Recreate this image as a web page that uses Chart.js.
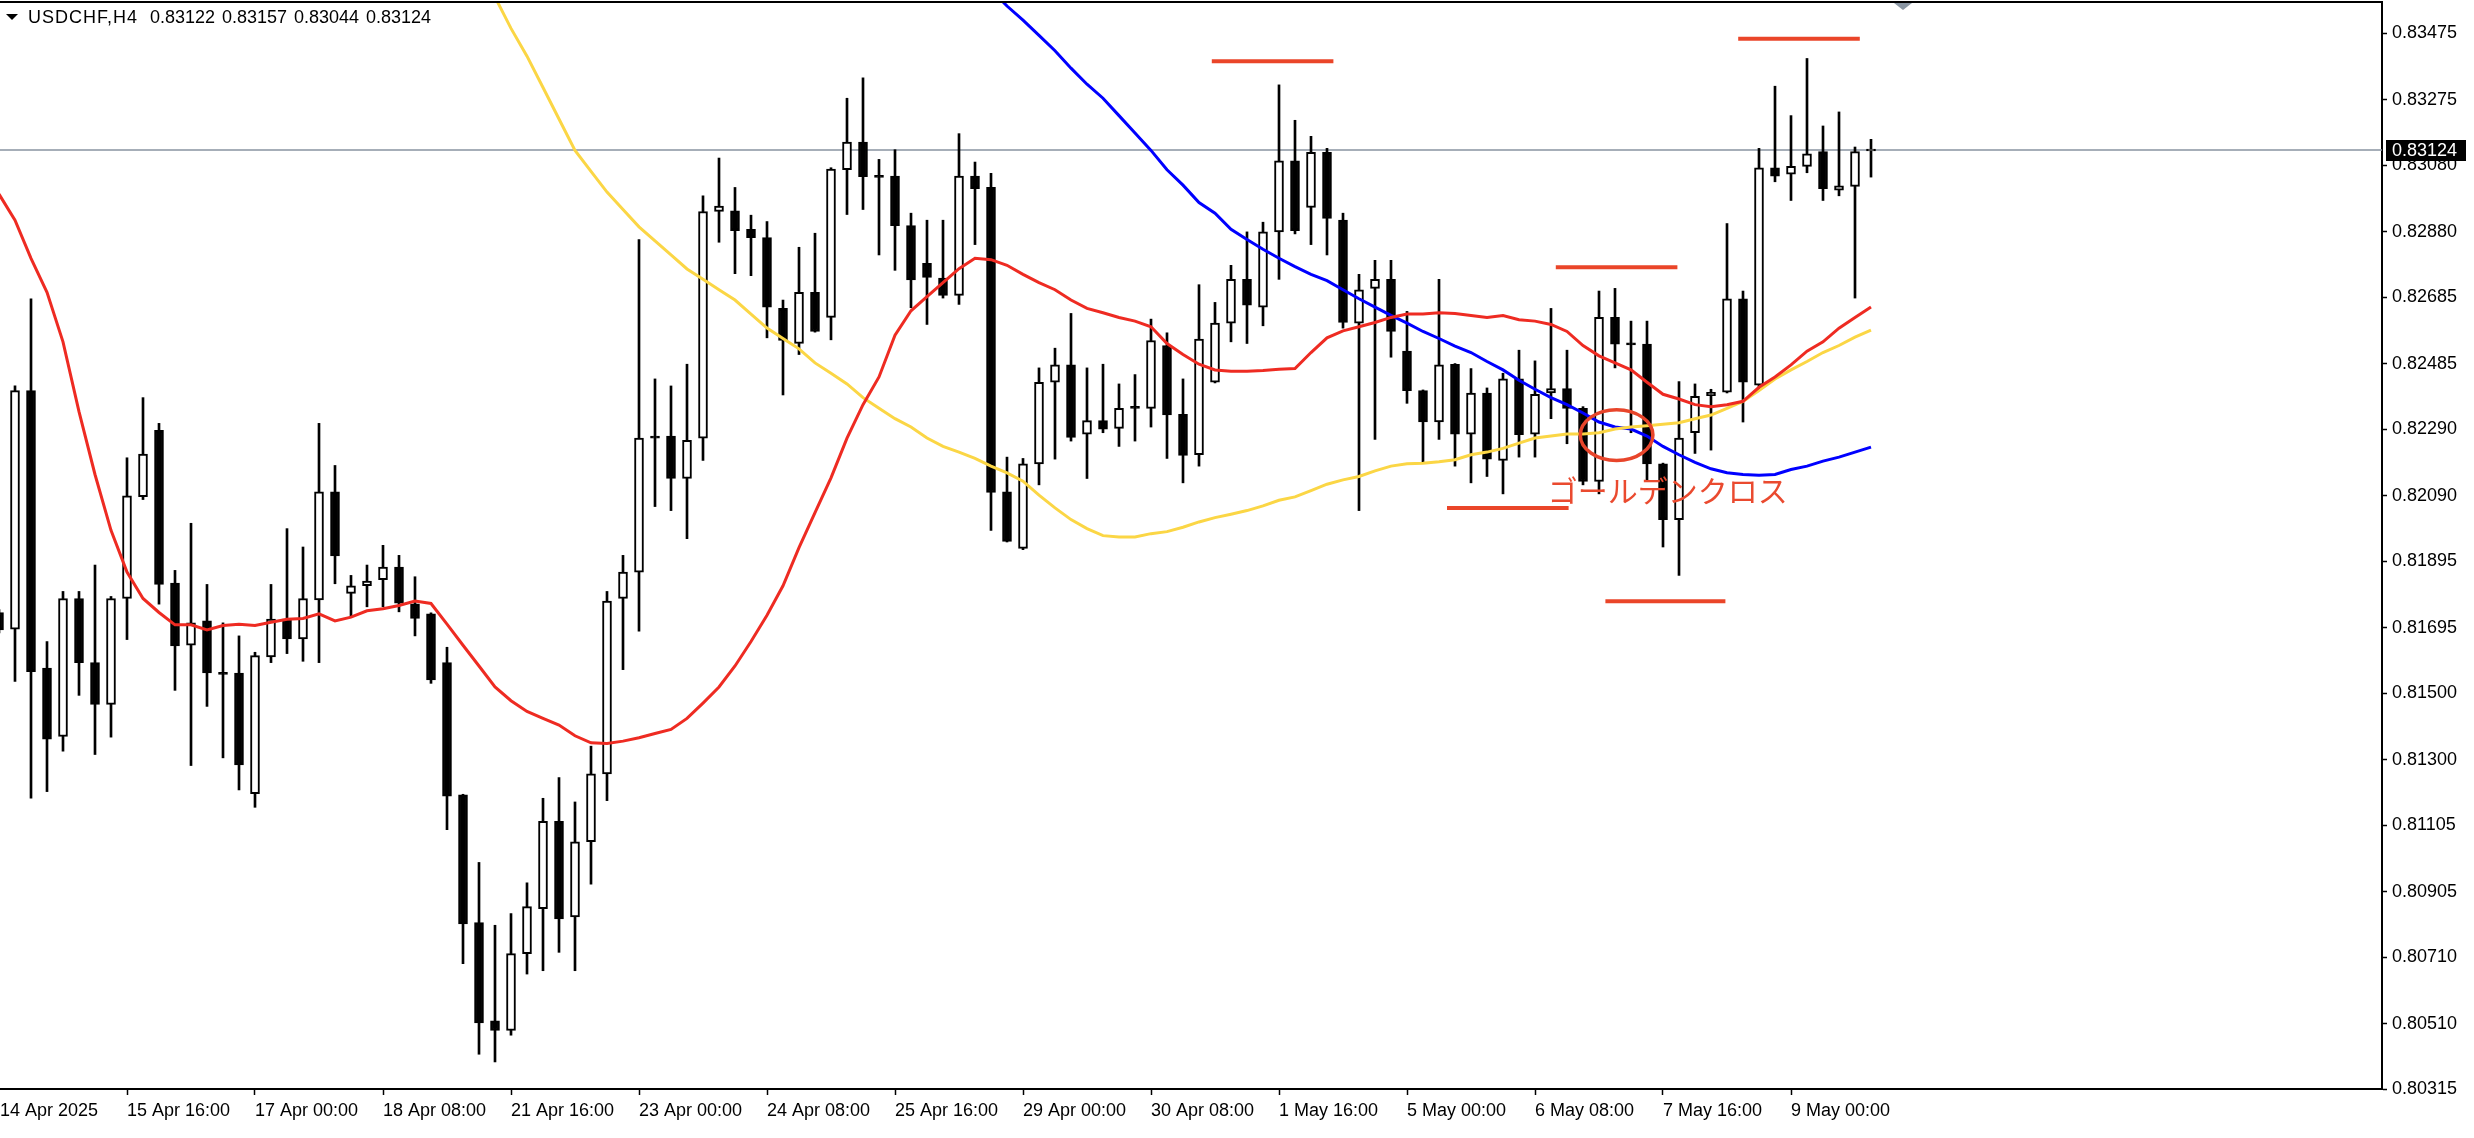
<!DOCTYPE html>
<html><head><meta charset="utf-8">
<script src="https://cdn.jsdelivr.net/npm/chart.js@4.4.1/dist/chart.umd.min.js"></script>
<style>html,body{margin:0;padding:0;background:#fff;overflow:hidden}#wrap{width:2474px;height:1138px;position:relative}canvas{display:block}</style>
</head><body><div id="wrap"><canvas id="c" width="2474" height="1138"></canvas></div>
<script>
// ---------- DATA ----------
const symbolTitle = 'USDCHF,H4';
const lastOHLC = ['0.83122', '0.83157', '0.83044', '0.83124'];

const opens = [0.81741,0.81691,0.82405,0.81575,0.81370,0.81783,0.81591,0.81466,0.81783,0.82088,
0.82286,0.81829,0.81643,0.81716,0.81560,0.81560,0.81199,0.81608,0.81721,0.81662,
0.81779,0.82102,0.81798,0.81821,0.81839,0.81877,0.81767,0.81737,0.81591,0.81195,
0.80813,0.80519,0.80490,0.80720,0.80855,0.81116,0.80830,0.81055,0.81258,0.81783,
0.81862,0.82265,0.82269,0.82142,0.82263,0.82941,0.82943,0.82888,0.82863,0.82651,
0.82546,0.82699,0.82624,0.83066,0.83149,0.83045,0.83047,0.82899,0.82786,0.82742,
0.82690,0.83047,0.83013,0.82102,0.81933,0.82186,0.82430,0.82482,0.82275,0.82315,
0.82292,0.82354,0.82352,0.82540,0.82334,0.82213,0.82430,0.82607,0.82738,0.82655,
0.82880,0.83093,0.82953,0.83118,0.82915,0.82607,0.82711,0.82738,0.82523,0.82405,
0.82311,0.82484,0.82275,0.82398,0.82196,0.82440,0.82275,0.82398,0.82411,0.82352,
0.82133,0.82624,0.82544,0.82544,0.82186,0.82019,0.82279,0.82390,0.82400,0.82680,
0.82421,0.83072,0.83053,0.83076,0.83120,0.83005,0.83016,0.83122];
const highs = [0.81750,0.82419,0.82680,0.81654,0.81804,0.81804,0.81883,0.81789,0.82204,0.82384,
0.82307,0.81867,0.82008,0.81825,0.81710,0.81671,0.81622,0.81825,0.81992,0.81937,
0.82307,0.82181,0.81852,0.81883,0.81942,0.81912,0.81848,0.81740,0.81637,0.81197,
0.80993,0.80805,0.80840,0.80932,0.81185,0.81247,0.81174,0.81341,0.81804,0.81912,
0.82857,0.82440,0.82419,0.82484,0.82988,0.83101,0.83013,0.82930,0.82911,0.82676,
0.82834,0.82876,0.83072,0.83280,0.83341,0.83097,0.83126,0.82936,0.82915,0.82915,
0.83174,0.83089,0.83055,0.82206,0.82202,0.82473,0.82532,0.82636,0.82473,0.82484,
0.82425,0.82453,0.82619,0.82578,0.82440,0.82722,0.82669,0.82780,0.82880,0.82909,
0.83320,0.83214,0.83166,0.83130,0.82936,0.82753,0.82795,0.82795,0.82642,0.82407,
0.82738,0.82486,0.82471,0.82413,0.82457,0.82526,0.82494,0.82651,0.82526,0.82357,
0.82703,0.82711,0.82613,0.82613,0.82188,0.82432,0.82425,0.82409,0.82905,0.82703,
0.83130,0.83316,0.83228,0.83399,0.83197,0.83239,0.83134,0.83157];
const lows = [0.81680,0.81535,0.81185,0.81205,0.81326,0.81493,0.81316,0.81368,0.81660,0.82079,
0.81766,0.81508,0.81283,0.81460,0.81306,0.81210,0.81158,0.81591,0.81618,0.81595,
0.81591,0.81827,0.81727,0.81758,0.81758,0.81743,0.81671,0.81529,0.81091,0.80690,
0.80419,0.80396,0.80476,0.80659,0.80669,0.80724,0.80669,0.80928,0.81178,0.81570,
0.81685,0.82058,0.82046,0.81962,0.82196,0.82849,0.82755,0.82749,0.82563,0.82392,
0.82513,0.82580,0.82557,0.82932,0.82947,0.82811,0.82765,0.82653,0.82603,0.82682,
0.82663,0.82842,0.81987,0.81952,0.81929,0.82123,0.82200,0.82254,0.82142,0.82279,
0.82238,0.82254,0.82296,0.82202,0.82129,0.82179,0.82428,0.82551,0.82546,0.82599,
0.82738,0.82874,0.82842,0.82811,0.82592,0.82046,0.82259,0.82505,0.82367,0.82192,
0.82259,0.82179,0.82129,0.82148,0.82096,0.82206,0.82206,0.82321,0.82246,0.82123,
0.82096,0.82473,0.82279,0.82133,0.81937,0.81852,0.82217,0.82227,0.82398,0.82311,
0.82405,0.83030,0.82974,0.83057,0.82974,0.82988,0.82682,0.83044];
const closes = [0.81689,0.82405,0.81564,0.81362,0.81783,0.81591,0.81466,0.81783,0.82090,0.82215,
0.81825,0.81641,0.81710,0.81560,0.81556,0.81285,0.81612,0.81721,0.81662,0.81783,
0.82102,0.81910,0.81821,0.81835,0.81877,0.81769,0.81723,0.81539,0.81191,0.80809,
0.80513,0.80490,0.80720,0.80861,0.81116,0.80824,0.81055,0.81258,0.81775,0.81862,
0.82263,0.82263,0.82142,0.82256,0.82941,0.82957,0.82884,0.82863,0.82655,0.82555,
0.82699,0.82582,0.83068,0.83149,0.83045,0.83043,0.82899,0.82736,0.82744,0.82690,
0.83047,0.83009,0.82100,0.81954,0.82186,0.82430,0.82482,0.82265,0.82315,0.82290,
0.82352,0.82352,0.82555,0.82332,0.82211,0.82559,0.82607,0.82738,0.82661,0.82880,
0.83093,0.82884,0.83118,0.82920,0.82609,0.82707,0.82738,0.82582,0.82405,0.82311,
0.82482,0.82275,0.82398,0.82200,0.82440,0.82273,0.82394,0.82411,0.82352,0.82133,
0.82624,0.82544,0.82542,0.82186,0.82019,0.82263,0.82388,0.82400,0.82680,0.82430,
0.83072,0.83047,0.83076,0.83114,0.83009,0.83018,0.83120,0.83124];

const maRed = [0.82993,0.82915,0.82801,0.82699,0.82551,0.82342,0.82154,0.81987,0.81862,0.81783,
0.81741,0.81704,0.81704,0.81689,0.81702,0.81706,0.81702,0.81712,0.81721,0.81723,
0.81737,0.81716,0.81727,0.81746,0.81752,0.81762,0.81775,0.81768,0.81706,0.81643,
0.81581,0.81518,0.81477,0.81445,0.81424,0.81404,0.81372,0.81351,0.81349,0.81356,
0.81366,0.81379,0.81391,0.81424,0.81470,0.81518,0.81581,0.81654,0.81733,0.81821,
0.81935,0.82040,0.82144,0.82263,0.82363,0.82446,0.82571,0.82644,0.82686,0.82728,
0.82770,0.82801,0.82797,0.82780,0.82753,0.82728,0.82707,0.82676,0.82651,0.82638,
0.82624,0.82613,0.82596,0.82546,0.82513,0.82484,0.82467,0.82463,0.82463,0.82465,
0.82469,0.82471,0.82519,0.82563,0.82584,0.82596,0.82609,0.82624,0.82634,0.82634,
0.82638,0.82636,0.82630,0.82624,0.82630,0.82617,0.82613,0.82603,0.82582,0.82540,
0.82509,0.82488,0.82467,0.82430,0.82394,0.82380,0.82363,0.82357,0.82363,0.82373,
0.82415,0.82446,0.82482,0.82523,0.82551,0.82592,0.82624,0.82655];
const maYellow = [null,null,null,null,null,null,null,null,null,null,
null,null,null,null,null,null,null,null,null,null,
null,null,null,null,null,null,null,null,null,null,
0.83675,0.83583,0.83489,0.83406,0.83312,0.83218,0.83124,0.83061,0.82999,0.82947,
0.82895,0.82853,0.82811,0.82769,0.82738,0.82707,0.82676,0.82634,0.82592,0.82561,
0.82530,0.82488,0.82457,0.82425,0.82384,0.82352,0.82321,0.82296,0.82263,0.82238,
0.82221,0.82202,0.82179,0.82159,0.82134,0.82092,0.82054,0.82019,0.81992,0.81971,
0.81967,0.81967,0.81977,0.81983,0.81996,0.82012,0.82025,0.82035,0.82046,0.82060,
0.82077,0.82087,0.82106,0.82125,0.82138,0.82148,0.82165,0.82179,0.82186,0.82188,
0.82192,0.82198,0.82213,0.82221,0.82232,0.82248,0.82263,0.82269,0.82275,0.82275,
0.82279,0.82290,0.82296,0.82300,0.82304,0.82309,0.82321,0.82332,0.82352,0.82373,
0.82405,0.82440,0.82467,0.82492,0.82519,0.82540,0.82565,0.82586];
const maBlue = [null,null,null,null,null,null,null,null,null,null,
null,null,null,null,null,null,null,null,null,null,
null,null,null,null,null,null,null,null,null,null,
null,null,null,null,null,null,null,null,null,null,
null,null,null,null,null,null,null,null,null,null,
null,null,null,null,null,null,null,null,null,null,
0.83700,0.83650,0.83605,0.83556,0.83514,0.83468,0.83422,0.83370,0.83322,0.83280,
0.83228,0.83176,0.83124,0.83066,0.83020,0.82968,0.82936,0.82888,0.82857,0.82828,
0.82801,0.82776,0.82753,0.82734,0.82707,0.82680,0.82655,0.82630,0.82607,0.82582,
0.82561,0.82538,0.82519,0.82492,0.82467,0.82436,0.82409,0.82384,0.82363,0.82338,
0.82311,0.82296,0.82290,0.82269,0.82238,0.82213,0.82190,0.82171,0.82159,0.82154,
0.82152,0.82154,0.82169,0.82179,0.82194,0.82206,0.82221,0.82236];

const xTickIndex = [0,8,16,24,32,40,48,56,64,72,80,88,96,104,112];
const xTickLabels = ['14 Apr 2025','15 Apr 16:00','17 Apr 00:00','18 Apr 08:00','21 Apr 16:00','23 Apr 00:00','24 Apr 08:00','25 Apr 16:00','29 Apr 00:00','30 Apr 08:00','1 May 16:00','5 May 00:00','6 May 08:00','7 May 16:00','9 May 00:00'];
const yTickLabels = ['0.83475','0.83275','0.83080','0.82880','0.82685','0.82485','0.82290','0.82090','0.81895','0.81695','0.81500','0.81300','0.81105','0.80905','0.80710','0.80510','0.80315'];

// annotation objects (bar index / price)
const hLineFrom = [75.8, 108.7, 97.3, 90.5, 100.4];
const hLineTo   = [83.4, 116.3, 104.9, 98.1, 107.9];
const hLinePrice = [0.83391, 0.83458, 0.82774, 0.82054, 0.81775];
const crossEllipse = {x: 101.1, y: 0.82272, rx: 2.27, ry: 0.00076};
const crossLabel = {text: 'ゴールデンクロス', x: 96.8, y: 0.82107};

// ---------- CHART ----------
const AXIS_FONT = {family: "'Liberation Sans', Arial, sans-serif", size: 18};
const X_MIN = 0.0625, X_MAX = 148.9375;
const Y_MIN = 0.80315, Y_MAX = 0.83568;

function pts(arr){ const r=[]; arr.forEach((v,i)=>{ if(v!==null) r.push({x:i,y:v}); }); return r; }

const overlay = {
  id: 'overlay',
  beforeDatasetsDraw(chart){
    const {ctx, chartArea:a, scales:{y}} = chart;
    const py = Math.round(y.getPixelForValue(closes[closes.length-1]));
    ctx.save();
    ctx.strokeStyle = '#8893a0'; ctx.lineWidth = 1.5;
    ctx.beginPath(); ctx.moveTo(a.left, py); ctx.lineTo(a.right, py); ctx.stroke();
    ctx.restore();
  },
  afterDatasetsDraw(chart){
    const {ctx, chartArea:a, scales:{x,y}} = chart;
    ctx.save();
    ctx.beginPath(); ctx.rect(a.left, a.top, a.right-a.left, a.bottom-a.top); ctx.clip();
    ctx.strokeStyle = '#ea4529'; ctx.lineWidth = 4; ctx.lineCap = 'butt';
    for (let k=0;k<hLinePrice.length;k++){
      const yy = y.getPixelForValue(hLinePrice[k]);
      ctx.beginPath(); ctx.moveTo(x.getPixelForValue(hLineFrom[k]), yy); ctx.lineTo(x.getPixelForValue(hLineTo[k]), yy); ctx.stroke();
    }
    const cx = x.getPixelForValue(crossEllipse.x), cy = y.getPixelForValue(crossEllipse.y);
    const rx = Math.abs(x.getPixelForValue(crossEllipse.x + crossEllipse.rx) - cx);
    const ry = Math.abs(y.getPixelForValue(crossEllipse.y + crossEllipse.ry) - cy);
    ctx.strokeStyle = '#e8452b'; ctx.lineWidth = 3.5;
    ctx.beginPath(); ctx.ellipse(cx, cy, rx, ry, 0, 0, Math.PI*2); ctx.stroke();
    ctx.fillStyle = '#ea4a2f';
    ctx.font = "30px 'Noto Sans CJK JP', sans-serif";
    ctx.textBaseline = 'middle'; ctx.textAlign = 'left';
    ctx.fillText(crossLabel.text, x.getPixelForValue(crossLabel.x), y.getPixelForValue(crossLabel.y));
    ctx.restore();
  },
  afterDraw(chart){
    const {ctx, chartArea:a, scales:{x,y}} = chart;
    ctx.save();
    // top border
    ctx.strokeStyle = '#000'; ctx.lineWidth = 2;
    ctx.beginPath(); ctx.moveTo(0, a.top); ctx.lineTo(a.right, a.top); ctx.stroke();
    // shift marker
    const mx = x.getPixelForValue(119);
    ctx.fillStyle = '#8a96a3';
    ctx.beginPath(); ctx.moveTo(mx-9, a.top+1); ctx.lineTo(mx+9, a.top+1); ctx.lineTo(mx, a.top+8); ctx.closePath(); ctx.fill();
    // title
    ctx.fillStyle = '#000';
    ctx.beginPath(); ctx.moveTo(6, 14); ctx.lineTo(18, 14); ctx.lineTo(12, 20); ctx.closePath(); ctx.fill();
    ctx.font = "18px 'Liberation Sans', Arial, sans-serif";
    ctx.textBaseline = 'middle'; ctx.textAlign = 'left';
    ctx.letterSpacing = '1px';
    ctx.fillText(symbolTitle, 28, 18);
    ctx.letterSpacing = '0px';
    const tx = [150, 222, 294, 366];
    lastOHLC.forEach((t,k)=>ctx.fillText(t, tx[k], 18));
    // current price box
    const py = Math.round(y.getPixelForValue(closes[closes.length-1]));
    ctx.fillStyle = '#000';
    ctx.fillRect(a.right+4, py-10, 80, 21);
    ctx.fillStyle = '#fff';
    ctx.font = "18px 'Liberation Sans', Arial, sans-serif";
    ctx.fillText(lastOHLC[3], a.right+10, py+1);
    ctx.restore();
  }
};

new Chart(document.getElementById('c'), {
  type: 'bar',
  data: {
    datasets: [
      {type:'line', label:'MA red', data: pts(maRed), borderColor:'#ee2b22', borderWidth:3, pointRadius:0, tension:0, fill:false, order:0},
      {type:'line', label:'MA yellow', data: pts(maYellow), borderColor:'#fbd645', borderWidth:3, pointRadius:0, tension:0, fill:false, order:0},
      {type:'line', label:'MA blue', data: pts(maBlue), borderColor:'#0000ff', borderWidth:3, pointRadius:0, tension:0, fill:false, order:0},
      {type:'bar', label:'body', data: opens.map((o,i)=>({x:i, y:[o, closes[i]]})),
        backgroundColor: opens.map((o,i)=> closes[i] >= o ? '#ffffff' : '#000000'),
        borderColor:'#000', borderWidth:2, borderSkipped:false, barThickness:9, minBarLength:2, grouped:false, order:1},
      {type:'bar', label:'wick', data: highs.map((h,i)=>({x:i, y:[lows[i], h]})),
        backgroundColor:'#000', borderWidth:0, barThickness:2, grouped:false, order:2}
    ]
  },
  options: {
    responsive:false, animation:false, devicePixelRatio:1,
    layout:{padding:{top:2, left:0, right:0, bottom:0}},
    plugins:{legend:{display:false}, tooltip:{enabled:false}},
    events: [],
    scales:{
      x:{type:'linear', min:X_MIN, max:X_MAX, offset:false,
        grid:{display:true, drawOnChartArea:false, drawTicks:true, tickLength:6, offset:false,
          tickColor: c => c.index === 0 ? 'rgba(0,0,0,0)' : '#000', tickWidth:1.5},
        border:{display:true, color:'#000', width:2},
        ticks:{autoSkip:false, maxRotation:0, minRotation:0, align:'start', padding:5, color:'#000', font:AXIS_FONT,
          callback:(v)=>{ const k = xTickIndex.findIndex(t => Math.abs((t===0?X_MIN:t) - v) < 1e-6); return k>=0 ? xTickLabels[k] : ''; }},
        afterBuildTicks: s => { s.ticks = xTickIndex.map(t => ({value: t===0 ? X_MIN : t})); },
        afterFit: s => { s.height = 49; s.paddingLeft = 0; s.paddingRight = 0; }
      },
      y:{type:'linear', position:'right', min:Y_MIN, max:Y_MAX, beginAtZero:false, grace:0,
        grid:{display:true, drawOnChartArea:false, drawTicks:true, tickLength:5, tickColor:'#000', tickWidth:1.5},
        border:{display:true, color:'#000', width:2},
        ticks:{autoSkip:false, padding:5, color:'#000', font:AXIS_FONT,
          callback:(v)=>{ const t = yTickLabels.find(s => Math.abs(parseFloat(s)-v) < 1e-7); return t || ''; }},
        afterBuildTicks: s => { s.ticks = yTickLabels.slice().reverse().map(t => ({value: parseFloat(t)})); },
        afterFit: s => { s.width = 92; s.paddingTop = 0; s.paddingBottom = 0; }
      }
    }
  },
  plugins:[overlay]
});
</script>
</body></html>
